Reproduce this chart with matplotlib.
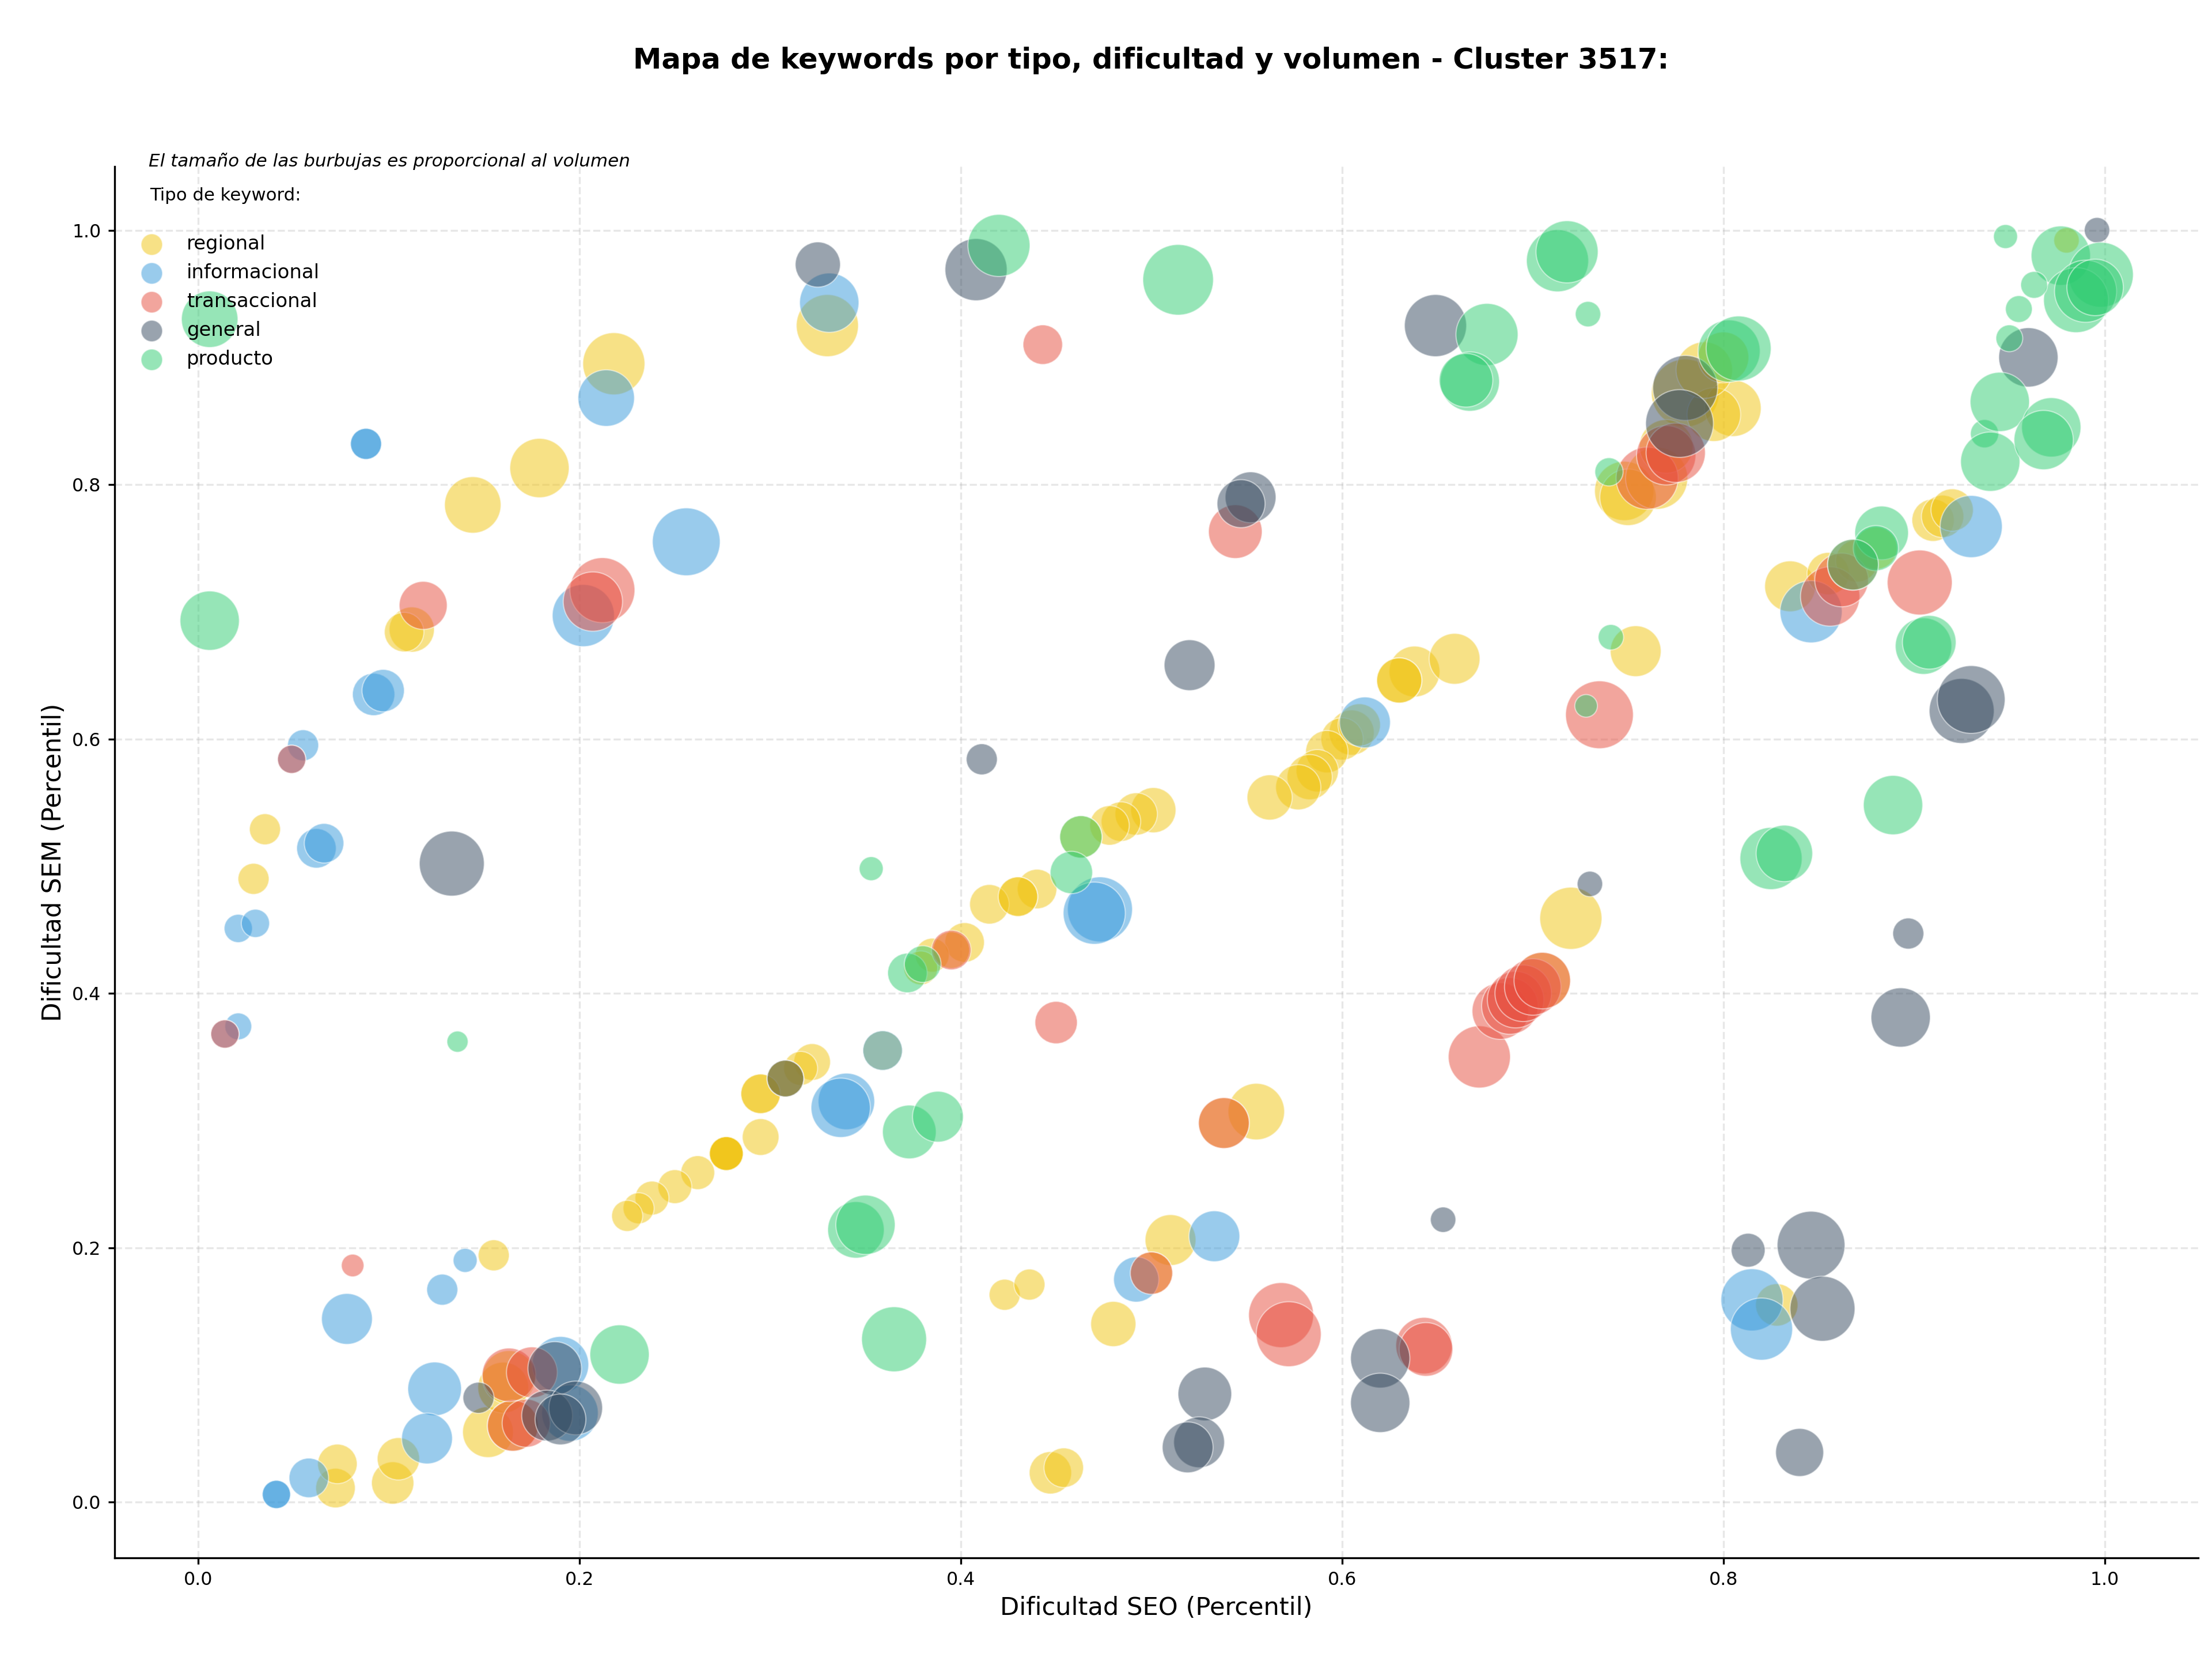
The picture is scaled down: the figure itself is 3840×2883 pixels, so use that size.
import matplotlib
matplotlib.use('Agg')
import matplotlib.pyplot as plt

tipos = ['regional', 'informacional', 'transaccional', 'general', 'producto']
colores = ['#f1c40f', '#3498db', '#e74c3c', '#34495e', '#2ecc71']

#dificultad SEO, dificultad SEM y volumen por tipo
reg_x = [0.218, 0.179, 0.144, 0.112, 0.108, 0.035, 0.029, 0.330, 0.835, 0.754, 0.720, 0.638, 0.630, 0.630, 0.659,
         0.605, 0.600, 0.592, 0.587, 0.583, 0.577, 0.562, 0.501, 0.492, 0.484, 0.478, 0.440, 0.430, 0.415, 0.402,
         0.385, 0.379, 0.322, 0.316, 0.295, 0.308, 0.295, 0.277, 0.277, 0.262, 0.250, 0.238, 0.231, 0.225, 0.555,
         0.155, 0.510, 0.423, 0.436, 0.480, 0.447, 0.454, 0.072, 0.073, 0.102, 0.105, 0.152, 0.160, 0.828, 0.748,
         0.750, 0.765, 0.780, 0.805, 0.795, 0.790, 0.800, 0.770, 0.910, 0.915, 0.920, 0.855, 0.870, 0.880, 0.980,
         0.395, 0.538, 0.500, 0.705, 0.163, 0.165, 0.463, 0.295, 0.430, 0.308, 0.359, 0.609, 0.277, 0.277]
reg_y = [0.895, 0.813, 0.784, 0.686, 0.684, 0.529, 0.490, 0.925, 0.720, 0.669, 0.459, 0.653, 0.646, 0.646, 0.663,
         0.605, 0.600, 0.590, 0.575, 0.570, 0.562, 0.554, 0.544, 0.541, 0.535, 0.532, 0.482, 0.476, 0.470, 0.440,
         0.430, 0.420, 0.346, 0.341, 0.321, 0.333, 0.287, 0.274, 0.274, 0.259, 0.248, 0.239, 0.231, 0.225, 0.307,
         0.194, 0.206, 0.163, 0.171, 0.140, 0.023, 0.027, 0.011, 0.030, 0.015, 0.034, 0.055, 0.090, 0.155, 0.795,
         0.790, 0.805, 0.872, 0.860, 0.855, 0.890, 0.900, 0.830, 0.772, 0.775, 0.780, 0.730, 0.740, 0.750, 0.992,
         0.434, 0.298, 0.180, 0.410, 0.098, 0.060, 0.523, 0.321, 0.476, 0.333, 0.355, 0.611, 0.274, 0.274]
reg_v = [1936, 1764, 1600, 1024, 784, 484, 484, 1936, 1296, 1296, 1936, 1296, 1024, 1024, 1296,
         1024, 900, 900, 900, 1024, 1024, 1024, 1024, 900, 784, 784, 784, 784, 784, 784,
         576, 576, 676, 576, 784, 676, 676, 576, 576, 576, 576, 576, 484, 484, 1600,
         484, 1296, 484, 484, 1024, 900, 784, 784, 784, 900, 900, 1296, 1296, 900, 1764,
         1600, 1936, 2304, 1600, 1444, 1600, 1296, 1444, 900, 900, 900, 900, 900, 900, 324,
         676, 1296, 900, 1600, 1444, 1296, 900, 784, 784, 676, 784, 900, 576, 576]

inf_x = [0.214, 0.256, 0.202, 0.331, 0.088, 0.088, 0.092, 0.097, 0.055, 0.062, 0.066, 0.021, 0.030, 0.021, 0.473,
         0.470, 0.340, 0.337, 0.930, 0.846, 0.533, 0.492, 0.140, 0.128, 0.078, 0.124, 0.120, 0.058, 0.041, 0.041,
         0.190, 0.195, 0.815, 0.820, 0.049, 0.014, 0.359, 0.612]
inf_y = [0.868, 0.755, 0.697, 0.943, 0.832, 0.832, 0.635, 0.638, 0.595, 0.514, 0.518, 0.451, 0.455, 0.374, 0.466,
         0.463, 0.315, 0.310, 0.767, 0.700, 0.209, 0.175, 0.190, 0.167, 0.144, 0.089, 0.050, 0.019, 0.006, 0.006,
         0.108, 0.070, 0.159, 0.136, 0.584, 0.368, 0.355, 0.613]
inf_v = [1600, 2304, 1936, 1764, 484, 484, 900, 900, 484, 784, 784, 400, 400, 361, 2116,
         1936, 1600, 1764, 1936, 1936, 1296, 1024, 289, 484, 1296, 1444, 1296, 784, 400, 400,
         1600, 1600, 1936, 1936, 400, 400, 784, 1296]

tra_x = [0.118, 0.212, 0.207, 0.443, 0.544, 0.903, 0.735, 0.856, 0.049, 0.014, 0.081, 0.450, 0.538, 0.500, 0.568,
         0.572, 0.643, 0.644, 0.672, 0.683, 0.688, 0.691, 0.695, 0.700, 0.705, 0.760, 0.770, 0.775, 0.862, 0.165,
         0.172, 0.163, 0.175, 0.395, 0.868]
tra_y = [0.705, 0.717, 0.708, 0.910, 0.763, 0.723, 0.619, 0.712, 0.584, 0.368, 0.186, 0.377, 0.298, 0.180, 0.147,
         0.132, 0.123, 0.120, 0.350, 0.386, 0.390, 0.395, 0.400, 0.405, 0.410, 0.805, 0.823, 0.825, 0.725, 0.060,
         0.062, 0.100, 0.102, 0.434, 0.737]
tra_v = [1156, 2116, 1764, 784, 1444, 2116, 2304, 1764, 400, 400, 256, 900, 1296, 900, 2116,
         2116, 1600, 1444, 1936, 1600, 1600, 1600, 1600, 1600, 1600, 1936, 1764, 1764, 1444, 1296,
         1156, 1444, 1296, 784, 1296]

gen_x = [0.325, 0.408, 0.649, 0.960, 0.996, 0.552, 0.547, 0.520, 0.780, 0.777, 0.411, 0.133, 0.730, 0.897,
         0.893, 0.308, 0.653, 0.813, 0.846, 0.852, 0.840, 0.620, 0.620, 0.528, 0.525, 0.519, 0.147, 0.187,
         0.183, 0.198, 0.190, 0.925, 0.930]
gen_y = [0.973, 0.969, 0.925, 0.900, 1.000, 0.790, 0.785, 0.658, 0.876, 0.848, 0.584, 0.502, 0.486, 0.447,
         0.381, 0.333, 0.222, 0.198, 0.202, 0.152, 0.039, 0.113, 0.078, 0.085, 0.047, 0.043, 0.082, 0.105,
         0.068, 0.074, 0.065, 0.622, 0.631]
gen_v = [1024, 1936, 1936, 1764, 324, 1296, 1156, 1296, 2116, 2304, 484, 2116, 324, 484,
         1764, 676, 324, 576, 2304, 2116, 1156, 1764, 1764, 1444, 1296, 1296, 484, 1444,
         1296, 1444, 1296, 2116, 2304]

pro_x = [0.006, 0.006, 0.420, 0.514, 0.713, 0.718, 0.729, 0.676, 0.667, 0.665, 0.740, 0.803, 0.808, 0.948, 0.977,
         0.998, 0.985, 0.990, 0.995, 0.963, 0.955, 0.950, 0.937, 0.945, 0.940, 0.972, 0.968, 0.883, 0.880, 0.905,
         0.908, 0.741, 0.728, 0.353, 0.136, 0.463, 0.458, 0.372, 0.380, 0.889, 0.825, 0.832, 0.373, 0.388, 0.345,
         0.350, 0.365, 0.221, 0.868]
pro_y = [0.693, 0.930, 0.988, 0.961, 0.976, 0.983, 0.934, 0.918, 0.881, 0.882, 0.810, 0.905, 0.907, 0.995, 0.980,
         0.965, 0.945, 0.952, 0.955, 0.957, 0.938, 0.915, 0.840, 0.865, 0.818, 0.845, 0.835, 0.762, 0.750, 0.673,
         0.676, 0.680, 0.626, 0.498, 0.362, 0.523, 0.495, 0.416, 0.423, 0.548, 0.506, 0.510, 0.291, 0.303, 0.214,
         0.218, 0.128, 0.116, 0.737]
pro_v = [1764, 1600, 1936, 2500, 1936, 1936, 324, 1936, 1764, 1444, 400, 1936, 2116, 289, 1764,
         2116, 2116, 1936, 1600, 361, 361, 361, 400, 1764, 1764, 1764, 1764, 1444, 1024, 1600,
         1444, 324, 256, 289, 225, 900, 900, 784, 676, 1764, 1936, 1600, 1444, 1296, 1600,
         1764, 2116, 1764, 1296]

series_x = [reg_x, inf_x, tra_x, gen_x, pro_x]
series_y = [reg_y, inf_y, tra_y, gen_y, pro_y]
series_v = [reg_v, inf_v, tra_v, gen_v, pro_v]

fig = plt.figure(figsize=(12.8, 9.61), dpi=300)
ax = fig.add_axes([0.0517, 0.0620, 0.9420, 0.8377])

for nombre, color, x, y, v in zip(tipos, colores, series_x, series_y, series_v):
    ax.scatter(x, y, s=[i*0.3457 for i in v], c=color, alpha=0.5,
               edgecolors='white', linewidths=0.5, label=nombre)

ax.set_xlim(-0.044, 1.049)
ax.set_ylim(-0.044, 1.05)
ax.set_xticks([0.0, 0.2, 0.4, 0.6, 0.8, 1.0])
ax.set_yticks([0.0, 0.2, 0.4, 0.6, 0.8, 1.0])
ax.tick_params(labelsize=7.6, length=2.7, pad=2.8)
ax.grid(True, linestyle='--', alpha=0.3)
ax.set_axisbelow(True)
ax.spines['top'].set_visible(False)
ax.spines['right'].set_visible(False)

ax.set_xlabel('Dificultad SEO (Percentil)', fontsize=10.4, labelpad=2.8)
ax.set_ylabel('Dificultad SEM (Percentil)', fontsize=10.5, labelpad=2.4)
fig.text(0.5204, 0.9637, 'Mapa de keywords por tipo, dificultad y volumen - Cluster 3517:',
         ha='center', va='center', fontsize=11.92, fontweight='bold')

ax.text(0.0165, 1.004, 'El tamaño de las burbujas es proporcional al volumen',
        transform=ax.transAxes, fontsize=7.45, style='italic', va='center', zorder=10)
ax.text(0.017, 0.979, 'Tipo de keyword:', transform=ax.transAxes, fontsize=7.4, va='center', zorder=10)

leg = ax.legend(loc='upper left', bbox_to_anchor=(0.0, 0.964), frameon=False, fontsize=8.15,
                labelspacing=0.5)
for h in leg.legend_handles:
    h.set_sizes([80])
leg.set_zorder(10)

plt.savefig('out.png', dpi=300)
